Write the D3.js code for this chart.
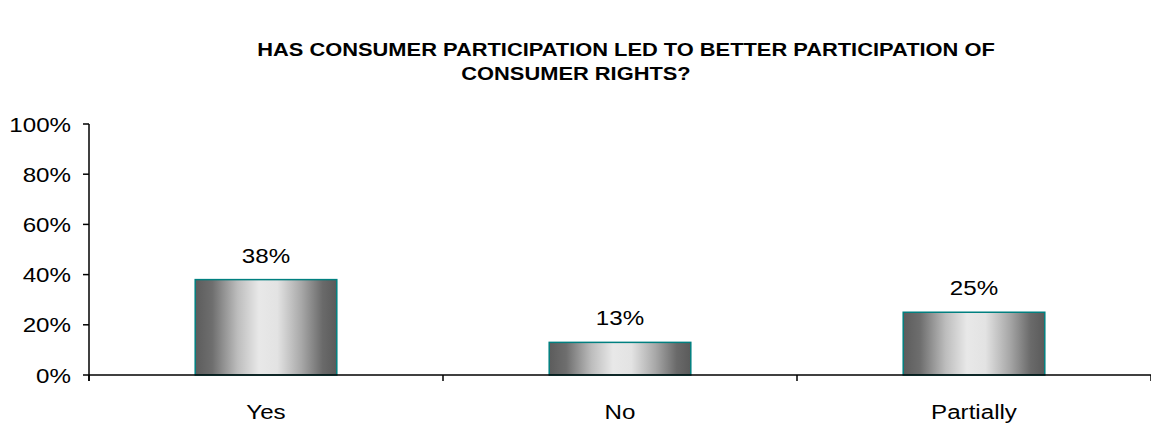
<!DOCTYPE html>
<html>
<head>
<meta charset="utf-8">
<script src="https://cdn.jsdelivr.net/npm/d3@7/dist/d3.min.js"></script>
<style>
  html, body { margin: 0; padding: 0; background: #fff; }
  svg { display: block; }
  text { font-family: Arial, "Liberation Sans", sans-serif; fill: #000; }
</style>
</head>
<body>
<svg id="chart" width="1151" height="427"></svg>
<script>
const titleLines = ["HAS CONSUMER PARTICIPATION LED TO BETTER PARTICIPATION OF", "CONSUMER RIGHTS?"];
const categories = ["Yes", "No", "Partially"];
const values = [0.38, 0.13, 0.25];
const valueLabels = ["38%", "13%", "25%"];
const yTicks = [0, 0.2, 0.4, 0.6, 0.8, 1.0];
const yTickLabels = ["0%", "20%", "40%", "60%", "80%", "100%"];

const W = 1151, H = 427;
const plot = { left: 89, right: 1151, top: 124, bottom: 375 };
const sx = 1.15; // text is drawn slightly wide

const svg = d3.select("#chart");

const x = d3.scaleBand()
  .domain(categories)
  .range([plot.left, plot.right])
  .paddingInner(0.6)
  .paddingOuter(0.3);

const y = d3.scaleLinear()
  .domain([0, 1])
  .range([plot.bottom, plot.top]);

// helper: place text with horizontal stretch
function putText(g, tx, ty, str, opts) {
  return g.append("text")
    .attr("transform", `translate(${tx},${ty}) scale(${sx},1)`)
    .attr("text-anchor", opts.anchor || "middle")
    .attr("font-size", opts.size)
    .attr("font-weight", opts.weight || "normal")
    .text(str);
}

// bar gradient
const defs = svg.append("defs");
const grad = defs.append("linearGradient")
  .attr("id", "barGrad")
  .attr("x1", "0%").attr("x2", "100%").attr("y1", "0%").attr("y2", "0%");
[[0, "#5c5c5c"], [0.12, "#6e6e6e"], [0.3, "#bdbdbd"], [0.45, "#e8e8e8"], [0.58, "#e3e3e3"], [0.75, "#a8a8a8"], [0.9, "#6a6a6a"], [1, "#5a5a5a"]]
  .forEach(([o, c]) => grad.append("stop").attr("offset", o).attr("stop-color", c));

// title (two lines)
const tg = svg.append("g");
const titleX = [626, 576];
titleLines.forEach((line, i) => {
  putText(tg, titleX[i], 56 + i * 24, line, { size: 19, weight: "bold" });
});

// bars
svg.append("g").selectAll("rect")
  .data(categories)
  .join("rect")
  .attr("x", d => x(d))
  .attr("width", x.bandwidth())
  .attr("y", (d, i) => y(values[i]))
  .attr("height", (d, i) => y(0) - y(values[i]))
  .attr("fill", "url(#barGrad)")
  .attr("stroke", "#008080")
  .attr("stroke-width", 1.5);

// value labels
const lg = svg.append("g");
categories.forEach((c, i) => {
  putText(lg, x(c) + x.bandwidth() / 2, y(values[i]) - 17, valueLabels[i], { size: 21 });
});

// y axis
const yAxis = svg.append("g");
yAxis.append("line")
  .attr("x1", plot.left).attr("x2", plot.left)
  .attr("y1", y(1)).attr("y2", y(0) + 6)
  .attr("stroke", "#000").attr("stroke-width", 1.5);
yTicks.forEach((t, i) => {
  yAxis.append("line")
    .attr("x1", plot.left - 6).attr("x2", plot.left)
    .attr("y1", y(t)).attr("y2", y(t))
    .attr("stroke", "#000").attr("stroke-width", 1.5);
  putText(yAxis, plot.left - 18, y(t) + 7.5, yTickLabels[i], { size: 21, anchor: "end" });
});

// x axis
const xAxis = svg.append("g");
xAxis.append("line")
  .attr("x1", plot.left).attr("x2", plot.right)
  .attr("y1", y(0)).attr("y2", y(0))
  .attr("stroke", "#000").attr("stroke-width", 1.5);
const bounds = categories.map(c => x(c) - x.step() * x.paddingOuter()).concat([plot.right]);
bounds.forEach(b => {
  xAxis.append("line")
    .attr("x1", b).attr("x2", b)
    .attr("y1", y(0)).attr("y2", y(0) + 6)
    .attr("stroke", "#000").attr("stroke-width", 1.5);
});
categories.forEach(c => {
  putText(xAxis, x(c) + x.bandwidth() / 2, 419, c, { size: 21 });
});
</script>
</body>
</html>
